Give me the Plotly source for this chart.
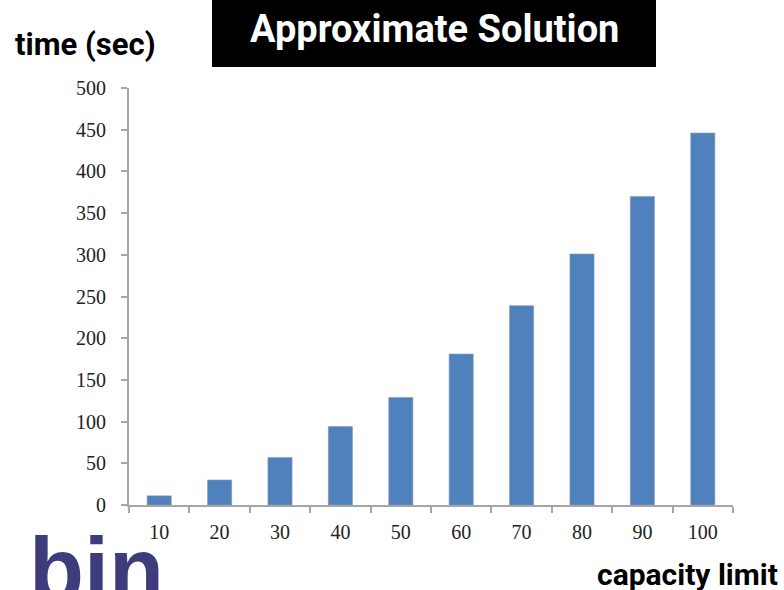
import plotly.graph_objects as go

# Run time of the approximate solution against the bin capacity limit
capacity = ["10", "20", "30", "40", "50", "60", "70", "80", "90", "100"]
time_sec = [11, 30, 57, 94, 129, 181, 239, 301, 370, 446]
y_ticks = [0, 50, 100, 150, 200, 250, 300, 350, 400, 450, 500]

W, H = 784, 590
L, R, T, B = 129, 51, 88, 85
PW, PH = W - L - R, H - T - B


def px(x):
    return (x - L) / PW


def py(y):
    return (H - B - y) / PH


fig = go.Figure(
    go.Bar(
        x=capacity,
        y=time_sec,
        marker=dict(color="#4f81bd", line=dict(color="#8a9bb3", width=0.6)),
    )
)

fig.update_layout(
    width=W,
    height=H,
    margin=dict(l=L, r=R, t=T, b=B),
    paper_bgcolor="white",
    plot_bgcolor="white",
    showlegend=False,
    bargap=0.6,
)

fig.update_xaxes(
    type="category",
    showgrid=False,
    showline=True,
    linecolor="#a6a6a6",
    linewidth=2,
    ticks="outside",
    tickson="boundaries",
    ticklen=6,
    tickwidth=2,
    tickcolor="#a6a6a6",
    ticklabelstandoff=8,
    tickfont=dict(family="Liberation Serif", size=20, color="#222"),
)

fig.update_yaxes(
    range=[0, 500],
    tickvals=y_ticks,
    showgrid=False,
    zeroline=False,
    showline=True,
    linecolor="#a6a6a6",
    linewidth=2,
    ticks="outside",
    ticklen=6,
    tickwidth=2,
    tickcolor="#a6a6a6",
    ticklabelstandoff=11,
    tickfont=dict(family="Liberation Serif", size=20, color="#222"),
)

# Black title banner
fig.add_shape(
    type="rect",
    xref="paper", yref="paper",
    x0=px(212), x1=px(656), y0=py(67), y1=py(-5),
    fillcolor="black", line=dict(width=0), layer="above",
)

fig.add_annotation(
    text="<b>Approximate Solution</b>",
    xref="paper", yref="paper",
    x=px(434), y=py(29), xanchor="center", yanchor="middle",
    showarrow=False,
    font=dict(family="Roboto", size=38, color="white"),
)

fig.add_annotation(
    text="<b>time (sec)</b>",
    xref="paper", yref="paper",
    x=px(13), y=py(45), xanchor="left", yanchor="middle",
    showarrow=False,
    font=dict(family="Roboto", size=31, color="black"),
)

fig.add_annotation(
    text="<b>capacity limit</b>",
    xref="paper", yref="paper",
    x=px(779), y=py(574), xanchor="right", yanchor="middle",
    showarrow=False, borderpad=0,
    font=dict(family="Roboto", size=30, color="black"),
)

# Logo text at the bottom-left corner
fig.add_annotation(
    text="<b>bin</b>",
    xref="paper", yref="paper",
    x=px(27), y=py(622), xanchor="left", yanchor="bottom",
    showarrow=False,
    font=dict(family="Liberation Sans", size=90, color="#3d3d7e"),
)

fig.write_html("out.html")
